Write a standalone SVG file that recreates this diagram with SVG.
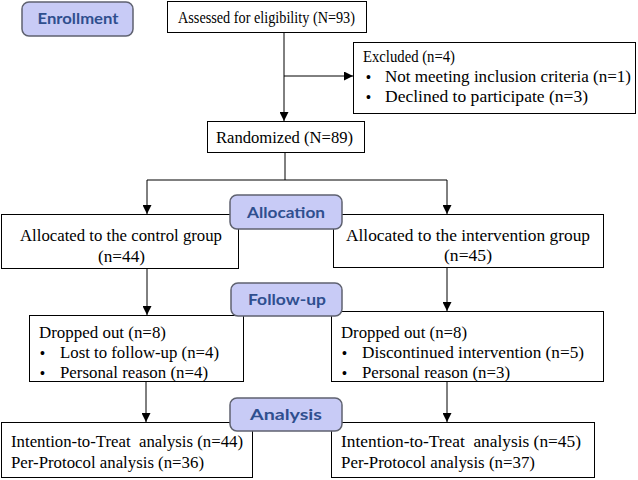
<svg xmlns="http://www.w3.org/2000/svg" width="638" height="480" viewBox="0 0 638 480">
<style>
.box{fill:#fff;stroke:#000;stroke-width:1}
.badge{fill:#c8cbf6;stroke:#5f6270;stroke-width:1.5}
.t{font-family:"Liberation Serif","Times New Roman",serif;font-size:16.5px;fill:#000}
.b{font-family:"Liberation Sans",Arial,sans-serif;font-size:14px;fill:#000}
.bt{font-family:Lato,"Open Sans",sans-serif;font-weight:bold;font-size:16px;fill:#2f4f8f;text-anchor:middle}
.ln{stroke:#000;stroke-width:1;fill:none}
</style>
<defs>
<marker id="ah" viewBox="0 0 10 10" refX="10" refY="5" markerWidth="9" markerHeight="9" markerUnits="userSpaceOnUse" orient="auto">
<path d="M0,0 L10,5 L0,10 z" fill="#000"/>
</marker>
</defs>
<g id="connectors">
<path class="ln" d="M284,32 V121" marker-end="url(#ah)"/>
<path class="ln" d="M284,76 H353" marker-end="url(#ah)"/>
<path class="ln" d="M285,152 V180 M147,180 H447"/>
<path class="ln" d="M147,180 V214" marker-end="url(#ah)"/>
<path class="ln" d="M447,180 V214" marker-end="url(#ah)"/>
<path class="ln" d="M147,268 V315" marker-end="url(#ah)"/>
<path class="ln" d="M447,267 V311" marker-end="url(#ah)"/>
<path class="ln" d="M146,381 V422" marker-end="url(#ah)"/>
<path class="ln" d="M447,381 V422" marker-end="url(#ah)"/>
</g>
<g id="enrollment">
<rect class="badge" x="22" y="2" width="111" height="34" rx="7"/>
<text class="bt" x="78" y="24" textLength="81" lengthAdjust="spacingAndGlyphs">Enrollment</text>
</g>
<g id="assessed">
<rect class="box" x="167.5" y="1.5" width="199" height="31"/>
<text class="t" x="178" y="23" textLength="177" lengthAdjust="spacingAndGlyphs">Assessed for eligibility (N=93)</text>
</g>
<g id="excluded">
<rect class="box" x="353.5" y="42.5" width="282" height="71"/>
<text class="t" x="363" y="62" textLength="92" lengthAdjust="spacingAndGlyphs">Excluded (n=4)</text>
<text class="b" x="366" y="82">•</text>
<text class="t" x="385" y="82" textLength="246" lengthAdjust="spacingAndGlyphs">Not meeting inclusion criteria (n=1)</text>
<text class="b" x="366" y="102">•</text>
<text class="t" x="385" y="102" textLength="203" lengthAdjust="spacingAndGlyphs">Declined to participate (n=3)</text>
</g>
<g id="randomized">
<rect class="box" x="207.5" y="121.5" width="157" height="31"/>
<text class="t" x="216" y="143" textLength="137" lengthAdjust="spacingAndGlyphs">Randomized (N=89)</text>
</g>
<g id="allocated-control">
<rect class="box" x="1.5" y="214.5" width="237" height="54"/>
<text class="t" x="20" y="241" textLength="202" lengthAdjust="spacingAndGlyphs">Allocated to the control group</text>
<text class="t" x="98" y="262" textLength="47" lengthAdjust="spacingAndGlyphs">(n=44)</text>
</g>
<g id="allocated-intervention">
<rect class="box" x="333.5" y="214.5" width="270" height="53"/>
<text class="t" x="346" y="241" textLength="244" lengthAdjust="spacingAndGlyphs">Allocated to the intervention group</text>
<text class="t" x="444" y="261" textLength="48" lengthAdjust="spacingAndGlyphs">(n=45)</text>
</g>
<g id="allocation">
<rect class="badge" x="230" y="195" width="112" height="34" rx="7"/>
<text class="bt" x="286" y="218" textLength="78" lengthAdjust="spacingAndGlyphs">Allocation</text>
</g>
<g id="dropped-control">
<rect class="box" x="29.5" y="315.5" width="214" height="66"/>
<text class="t" x="39" y="338" textLength="127" lengthAdjust="spacingAndGlyphs">Dropped out (n=8)</text>
<text class="b" x="40" y="358">•</text>
<text class="t" x="60" y="358" textLength="159" lengthAdjust="spacingAndGlyphs">Lost to follow-up (n=4)</text>
<text class="b" x="40" y="378">•</text>
<text class="t" x="60" y="378" textLength="148" lengthAdjust="spacingAndGlyphs">Personal reason (n=4)</text>
</g>
<g id="dropped-intervention">
<rect class="box" x="331.5" y="311.5" width="272" height="70"/>
<text class="t" x="341" y="338" textLength="126" lengthAdjust="spacingAndGlyphs">Dropped out (n=8)</text>
<text class="b" x="342" y="358">•</text>
<text class="t" x="362" y="358" textLength="222" lengthAdjust="spacingAndGlyphs">Discontinued intervention (n=5)</text>
<text class="b" x="342" y="378">•</text>
<text class="t" x="362" y="378" textLength="148" lengthAdjust="spacingAndGlyphs">Personal reason (n=3)</text>
</g>
<g id="follow-up">
<rect class="badge" x="231" y="283" width="111" height="33" rx="7"/>
<text class="bt" x="287" y="305" textLength="78" lengthAdjust="spacingAndGlyphs">Follow-up</text>
</g>
<g id="analysis-control">
<rect class="box" x="1.5" y="422.5" width="251" height="55"/>
<text class="t" x="11" y="447" textLength="232" lengthAdjust="spacingAndGlyphs" xml:space="preserve">Intention-to-Treat  analysis (n=44)</text>
<text class="t" x="11" y="468" textLength="193" lengthAdjust="spacingAndGlyphs">Per-Protocol analysis (n=36)</text>
</g>
<g id="analysis-intervention">
<rect class="box" x="331.5" y="422.5" width="263" height="55"/>
<text class="t" x="341" y="447" textLength="240" lengthAdjust="spacingAndGlyphs" xml:space="preserve">Intention-to-Treat  analysis (n=45)</text>
<text class="t" x="341" y="468" textLength="194" lengthAdjust="spacingAndGlyphs">Per-Protocol analysis (n=37)</text>
</g>
<g id="analysis">
<rect class="badge" x="230" y="398" width="112" height="33" rx="7"/>
<text class="bt" x="286" y="420" textLength="72" lengthAdjust="spacingAndGlyphs">Analysis</text>
</g>
</svg>
